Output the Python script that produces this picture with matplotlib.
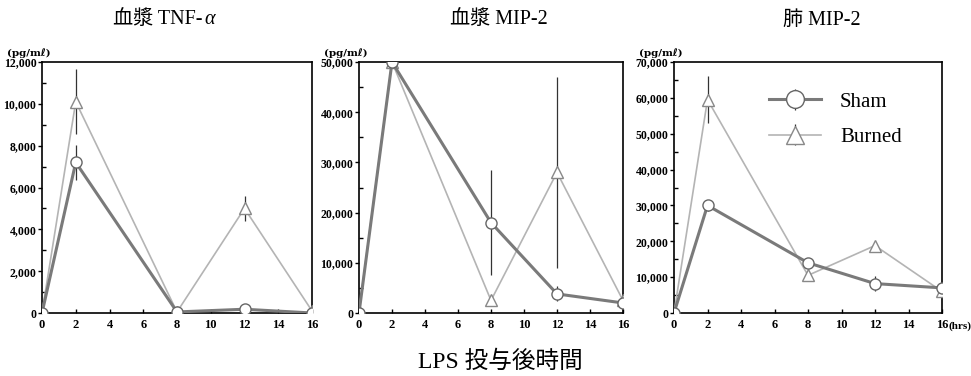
import matplotlib
matplotlib.use("Agg")
import matplotlib.pyplot as plt
from matplotlib.ticker import FuncFormatter, MultipleLocator

plt.rcParams['font.family'] = ['Liberation Serif', 'Noto Sans CJK JP', 'DejaVu Sans']

hours = [0, 2, 8, 12, 16]

titles = ["血漿 TNF-", "血漿 MIP-2", "肺 MIP-2"]
title_suffix = ["α", "", ""]

# Panel 1: plasma TNF-alpha
tnf_sham = [0, 7200, 50, 180, 0]
tnf_sham_err = [0, 850, 50, 80, 0]
tnf_burn = [0, 10100, 50, 5000, 100]
tnf_burn_err = [0, 1550, 50, 600, 50]

# Panel 2: plasma MIP-2
pmip_sham = [0, 50000, 18000, 3800, 2000]
pmip_sham_err = [0, 0, 10500, 1500, 500]
pmip_burn = [300, 50000, 2500, 28000, 2500]
pmip_burn_err = [0, 0, 600, 19000, 1000]

# Panel 3: lung MIP-2
lmip_sham = [0, 30000, 14000, 8200, 7000]
lmip_sham_err = [0, 1500, 1000, 2000, 500]
lmip_burn = [0, 59500, 10500, 18800, 6000]
lmip_burn_err = [0, 6500, 1000, 800, 1000]

ymax = [12000, 50000, 70000]
ystep = [2000, 10000, 10000]

panels = [
    (tnf_sham, tnf_sham_err, tnf_burn, tnf_burn_err),
    (pmip_sham, pmip_sham_err, pmip_burn, pmip_burn_err),
    (lmip_sham, lmip_sham_err, lmip_burn, lmip_burn_err),
]

W, H = 971, 376
fig = plt.figure(figsize=(W / 100, H / 100), dpi=100)

boxes = [(42, 312), (359, 623), (674, 942)]
top_px, bot_px = 62, 313
title_x = [163, 499, 822]

sham_col = '#7a7a7a'
burn_col = '#b4b4b4'

for i, ((s, se, b, be), (l, r)) in enumerate(zip(panels, boxes)):
    ax = fig.add_axes([l / W, 1 - bot_px / H, (r - l) / W, (bot_px - top_px) / H])
    ax.errorbar(hours, b, yerr=be, color=burn_col, lw=1.2, ecolor='#333333',
                elinewidth=0.9, capsize=0, marker='^', ms=8, mfc='white',
                mec='#888888', mew=1.0, label='Burned', zorder=3)
    ax.errorbar(hours, s, yerr=se, color=sham_col, lw=2.2, ecolor='#333333',
                elinewidth=0.9, capsize=0, marker='o', ms=8, mfc='white',
                mec='#666666', mew=1.0, label='Sham', zorder=4)
    ax.set_xlim(0, 16)
    ax.set_ylim(0, ymax[i])
    ax.set_xticks(range(0, 17, 2))
    ax.yaxis.set_major_locator(MultipleLocator(ystep[i]))
    ax.yaxis.set_minor_locator(MultipleLocator(ystep[i] / 2))
    ax.yaxis.set_major_formatter(FuncFormatter(lambda v, p: f"{int(v):,}"))
    ax.tick_params(axis='x', direction='in', length=3, width=1, labelsize=9, pad=4)
    ax.tick_params(axis='y', which='major', direction='out', length=3, width=1, labelsize=8.5, pad=1)
    ax.tick_params(axis='y', which='minor', direction='in', length=3, width=1)
    for lab in ax.get_xticklabels() + ax.get_yticklabels():
        lab.set_fontweight('bold')
    for sp in ax.spines.values():
        sp.set_linewidth(1.2)
    ax.annotate("(pg/mℓ)", xy=(0, 1), xycoords='axes fraction', xytext=(-25, 3),
                textcoords='offset points', ha='left', va='bottom', fontsize=7.5,
                fontweight='bold', family=['DejaVu Serif', 'DejaVu Sans'])
    if title_suffix[i]:
        t1 = fig.text(title_x[i] / W - 0.005, 1 - 20 / H, titles[i], ha='center', va='center',
                      fontsize=14.5)
        fig.canvas.draw()
        fig.texts[-1].figure.canvas.draw()
        t1.axes = None
        ax.annotate(title_suffix[i], xy=(1, 0.5), xycoords=t1, xytext=(1, 0),
                    textcoords='offset points', ha='left', va='center', fontsize=14.5,
                    style='italic')
    else:
        fig.text(title_x[i] / W, 1 - 20 / H, titles[i], ha='center', va='center', fontsize=14.5)
    if i == 2:
        ax.annotate("(hrs)", xy=(1, 0), xycoords='axes fraction', xytext=(4.5, -9.5),
                    textcoords='offset points', ha='left', va='center', fontsize=8,
                    fontweight='bold')
        h, lb = ax.get_legend_handles_labels()
        leg = ax.legend(h[::-1], lb[::-1], loc='upper right', bbox_to_anchor=(0.92, 0.955),
                        frameon=False, fontsize=15, handlelength=2.5, handletextpad=0.9,
                        labelspacing=0.75, markerscale=1.6)

fig.text(500 / W, 1 - 362 / H, "LPS 投与後時間", ha='center', va='center', fontsize=17)

fig.savefig("out.png", dpi=100)
